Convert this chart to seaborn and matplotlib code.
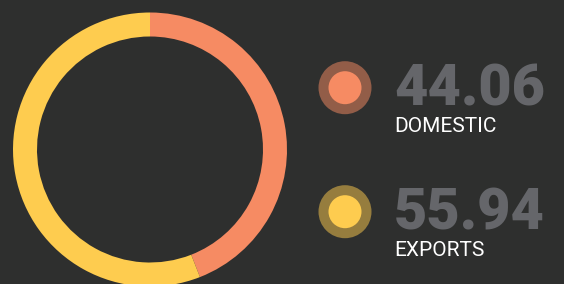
import matplotlib
matplotlib.use("Agg")
import matplotlib.pyplot as plt
import seaborn as sns
from matplotlib.patches import Circle

# Data
labels = ["DOMESTIC", "EXPORTS"]
values = [44.06, 55.94]
colors = ["#F68B63", "#FECC4F"]

bg = "#2E2F2E"
sns.set_theme(style="dark", rc={"figure.facecolor": bg, "axes.facecolor": bg,
                                "savefig.facecolor": bg})
plt.rcParams["font.family"] = ["Roboto", "DejaVu Sans"]

fig = plt.figure(figsize=(5.64, 2.84), dpi=100)
ax = fig.add_axes([0, 0, 1, 1])

# Donut
ax.pie(values, colors=colors, startangle=90, counterclock=False,
       center=(150, 134.5), radius=137, frame=True,
       wedgeprops=dict(width=24, linewidth=0))
ax.set_xlim(0, 564)
ax.set_ylim(0, 284)
ax.set_aspect("equal")
ax.axis("off")

# Legend entries
row_y = [196.3, 72.3]
for i, (lab, val, col) in enumerate(zip(labels, values, colors)):
    cy = row_y[i]
    ax.add_patch(Circle((345, cy), 26.5, color=col, alpha=0.5, lw=0))
    ax.add_patch(Circle((345, cy), 16.5, color=col, lw=0))
    ax.text(394, cy - 17.3, f"{val:.2f}", fontsize=41.5, fontweight="heavy",
            color="#65666A", ha="left", va="baseline")
    ax.text(394, cy - 44.3, lab, fontsize=15, color="white",
            ha="left", va="baseline")

fig.savefig("out.png", dpi=100)
